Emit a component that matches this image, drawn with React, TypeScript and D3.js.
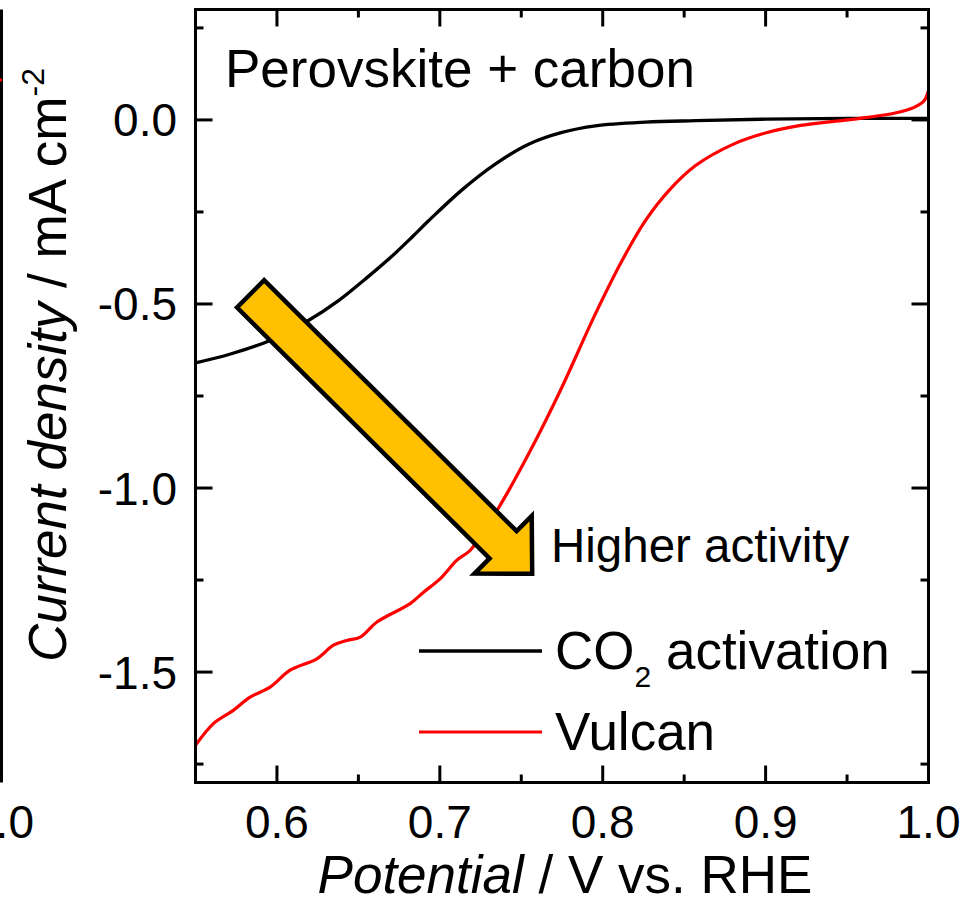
import React from 'react'
import * as d3 from 'd3'

// CO2 activation curve (black)
const potentialCO2 = [0.55, 0.5715, 0.5958, 0.6193, 0.6378, 0.6562, 0.6726, 0.683, 0.6931, 0.7136, 0.734, 0.7545, 0.775, 0.7955, 0.8263, 0.857, 0.9, 0.95, 1.0]
const currentCO2 = [-0.66, -0.636, -0.599, -0.545, -0.491, -0.425, -0.362, -0.318, -0.274, -0.19, -0.12, -0.066, -0.034, -0.016, -0.006, -0.002, 0.002, 0.004, 0.004]

// Vulcan curve (red)
const potentialVulcan = [0.55, 0.561, 0.5732, 0.5835, 0.5958, 0.6081, 0.6245, 0.6347, 0.643, 0.6511, 0.6614, 0.6818, 0.69, 0.7003, 0.7105, 0.7187, 0.7351, 0.7556, 0.774, 0.7955, 0.8119, 0.8263, 0.8406, 0.857, 0.8806, 0.901, 0.9215, 0.942, 0.9625, 0.9789, 0.9912, 0.9973, 1.0]
const currentVulcan = [-1.699, -1.64, -1.604, -1.568, -1.541, -1.495, -1.464, -1.427, -1.414, -1.405, -1.364, -1.314, -1.283, -1.246, -1.196, -1.169, -1.061, -0.898, -0.735, -0.527, -0.382, -0.273, -0.192, -0.124, -0.065, -0.034, -0.015, -0.004, 0.007, 0.018, 0.034, 0.052, 0.08]

const xMajor = [0.6, 0.7, 0.8, 0.9, 1.0]
const xMinor = [0.55, 0.65, 0.75, 0.85, 0.95]
const yMajor = [0, -0.5, -1.0, -1.5]
const yMinor = [0.25, -0.25, -0.75, -1.25, -1.75]

// arrow annotation, tail centre and tip in data units
const arrowTail = [0.5838, -0.4725]
const arrowTip = [0.7567, -1.2327]

const W = 969
const H = 917
const font = "'Liberation Sans', Arial, sans-serif"

const App = () => {
  const x = d3.scaleLinear().domain([0.55, 1.0]).range([195.5, 928.5])
  const y = d3.scaleLinear().domain([-1.8, 0.3]).range([782.5, 9.5])
  const [x0, x1] = x.range()
  const [y0, y1] = y.range()

  const line = d3
    .line<number>()
    .x((d) => d[0])
    .y((d) => d[1])
    .curve(d3.curveCatmullRom.alpha(0.5))

  const co2 = line(potentialCO2.map((p, i) => [x(p), y(currentCO2[i])]) as any)
  const vulcan = line(potentialVulcan.map((p, i) => [x(p), y(currentVulcan[i])]) as any)

  // block arrow polygon
  const T = [x(arrowTail[0]), y(arrowTail[1])]
  const P = [x(arrowTip[0]), y(arrowTip[1])]
  const len = Math.hypot(P[0] - T[0], P[1] - T[1])
  const u = [(P[0] - T[0]) / len, (P[1] - T[1]) / len]
  const n = [-u[1], u[0]]
  const sh = 19.2
  const hh = 40.6
  const hl = 41
  const B = [P[0] - u[0] * hl, P[1] - u[1] * hl]
  const pt = (o: number[], k: number) => [o[0] + n[0] * k, o[1] + n[1] * k]
  const arrowPts = [pt(T, sh), pt(B, sh), pt(B, hh), P, pt(B, -hh), pt(B, -sh), pt(T, -sh)]

  const majorLen = 17
  const minorLen = 8

  return (
    <svg
      width={W}
      height={H}
      style={{ position: 'absolute', left: 0, top: 0, background: '#fff' }}
      fontFamily={font}
    >
      <rect width={W} height={H} fill='#fff' />

      {/* remnant of the neighbouring panel */}
      <line x1={1.5} x2={1.5} y1={y1} y2={y0} stroke='#000' strokeWidth={3} />
      <line x1={0} x2={2} y1={80} y2={80} stroke='red' strokeWidth={3} />
      <text x={2} y={838} fontSize={46} textAnchor='middle'>1.0</text>

      {/* curves */}
      <path d={co2 || ''} fill='none' stroke='#000' strokeWidth={3.3} />
      <path d={vulcan || ''} fill='none' stroke='#ff0000' strokeWidth={3.2} />

      {/* frame */}
      <rect x={x0} y={y1} width={x1 - x0} height={y0 - y1} fill='none' stroke='#000' strokeWidth={3} />

      {/* ticks, inward on all sides */}
      {xMajor.concat(xMinor).map((v, i) => {
        const l = i < xMajor.length ? majorLen : minorLen
        return (
          <g key={'xt' + i} stroke='#000' strokeWidth={3}>
            <line x1={x(v)} x2={x(v)} y1={y0} y2={y0 - l} />
            <line x1={x(v)} x2={x(v)} y1={y1} y2={y1 + l} />
          </g>
        )
      })}
      {yMajor.concat(yMinor).map((v, i) => {
        const l = i < yMajor.length ? majorLen : minorLen
        return (
          <g key={'yt' + i} stroke='#000' strokeWidth={3}>
            <line x1={x0} x2={x0 + l} y1={y(v)} y2={y(v)} />
            <line x1={x1} x2={x1 - l} y1={y(v)} y2={y(v)} />
          </g>
        )
      })}

      {/* tick labels */}
      {xMajor.map((v) => (
        <text key={'xl' + v} x={x(v)} y={838} fontSize={46} textAnchor='middle'>
          {v.toFixed(1)}
        </text>
      ))}
      {yMajor.map((v) => (
        <text key={'yl' + v} x={177} y={y(v) + 16.5} fontSize={46} textAnchor='end'>
          {v === 0 ? '0.0' : v.toFixed(1)}
        </text>
      ))}

      {/* axis titles */}
      <text x={(x0 + x1) / 2 + 3} y={893} fontSize={53} textAnchor='middle'>
        <tspan fontStyle='italic'>Potential</tspan> / V vs. RHE
      </text>
      <text transform='translate(66,365) rotate(-90)' fontSize={53} textAnchor='middle'>
        <tspan fontStyle='italic'>Current density</tspan> / mA cm
        <tspan fontSize={32} dy={-22}>-2</tspan>
      </text>

      {/* panel label */}
      <text x={225} y={87} fontSize={53}>Perovskite + carbon</text>

      {/* arrow */}
      <polygon
        points={arrowPts.map((p) => p.join(',')).join(' ')}
        fill='#FFC000'
        stroke='#000'
        strokeWidth={4.5}
        strokeLinejoin='miter'
      />
      <text x={551} y={562} fontSize={47.5}>Higher activity</text>

      {/* legend */}
      <line x1={419} x2={542} y1={651} y2={651} stroke='#000' strokeWidth={3.3} />
      <text x={555} y={669} fontSize={53}>
        CO<tspan fontSize={30} dy={18}>2</tspan>
        <tspan dy={-18}> activation</tspan>
      </text>
      <line x1={419} x2={542} y1={732} y2={732} stroke='#ff0000' strokeWidth={3.2} />
      <text x={555} y={750} fontSize={53}>Vulcan</text>
    </svg>
  )
}

export default App
